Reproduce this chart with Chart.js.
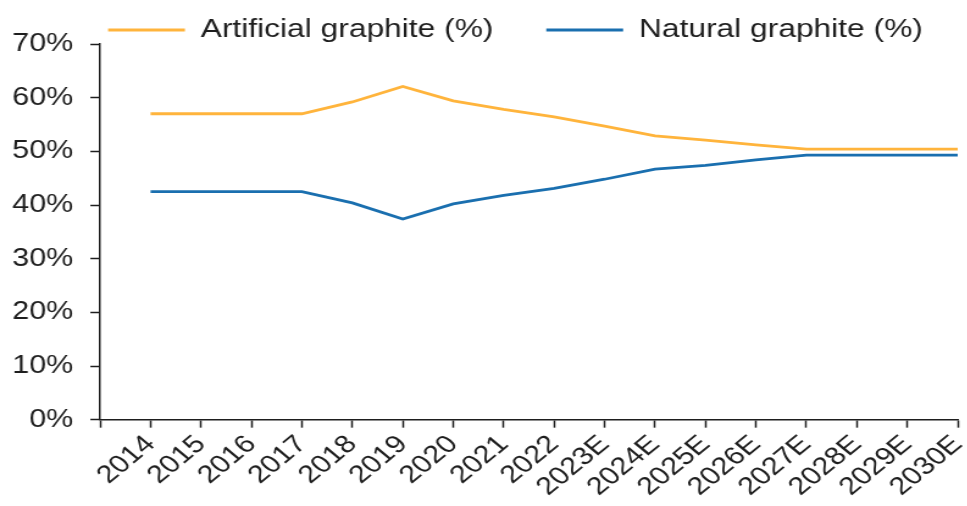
<!DOCTYPE html>
<html>
<head>
<meta charset="utf-8">
<script src="https://cdn.jsdelivr.net/npm/chart.js@4/dist/chart.umd.min.js"></script>
<style>
  html, body { margin: 0; padding: 0; background: #fff; overflow: hidden; }
  /* the source picture is stretched sideways, so draw narrow and scale */
  #wrap { width: 793px; height: 506px; transform: scaleX(1.22); transform-origin: 0 0; }
</style>
</head>
<body>
<div id="wrap"><canvas id="chart"></canvas></div>
<script>
const years = ["2014", "2015", "2016", "2017", "2018", "2019", "2020", "2021", "2022",
  "2023E", "2024E", "2025E", "2026E", "2027E", "2028E", "2029E", "2030E"];
const artificial = [57.0, 57.0, 57.0, 57.0, 59.2, 62.1, 59.4, 57.8, 56.4,
  54.7, 52.9, 52.1, 51.2, 50.4, 50.4, 50.4, 50.4];
const natural = [42.5, 42.5, 42.5, 42.5, 40.4, 37.4, 40.2, 41.8, 43.1,
  44.8, 46.7, 47.4, 48.4, 49.3, 49.3, 49.3, 49.3];
const yTicks = [0, 10, 20, 30, 40, 50, 60, 70];

const ORANGE = "#ffb43c";
const BLUE = "#1a6faf";
const INK = "#1e1e1e";
const FONT = "'Liberation Sans', Arial, sans-serif";

// axis starts one category before 2014, so pad with an empty slot
const labels = [""].concat(years);

// legend sits right of centre and overlaps the top of the plot a bit
const legendShift = {
  id: "legendShift",
  afterLayout(chart) {
    chart.legend.left += 32;
    chart.legend.right += 32;
    chart.legend.top += 9;
    chart.legend.bottom += 9;
  },
};

const ctx = document.getElementById("chart");
new Chart(ctx, {
  type: "line",
  data: {
    labels: labels,
    datasets: [
      {
        label: "Artificial graphite (%)",
        data: [null].concat(artificial),
        borderColor: ORANGE,
        backgroundColor: ORANGE,
        borderWidth: 2.8,
        pointRadius: 0,
        tension: 0,
      },
      {
        label: "Natural graphite (%)",
        data: [null].concat(natural),
        borderColor: BLUE,
        backgroundColor: BLUE,
        borderWidth: 2.8,
        pointRadius: 0,
        tension: 0,
      },
    ],
  },
  options: {
    responsive: true,
    maintainAspectRatio: false,
    animation: false,
    layout: { padding: { left: -4, right: 8, top: 8, bottom: 2 } },
    plugins: {
      legend: {
        position: "top",
        labels: {
          color: INK,
          font: { family: FONT, size: 26 },
          boxWidth: 63,
          boxHeight: 0,
          padding: 0,
          generateLabels(chart) {
            // wider gap after the first entry
            return chart.data.datasets.map((ds, i) => ({
              text: i === 0 ? ds.label + "      " : ds.label,
              fillStyle: ds.borderColor,
              strokeStyle: ds.borderColor,
              lineWidth: 2.8,
              fontColor: INK,
              datasetIndex: i,
            }));
          },
        },
      },
      tooltip: { enabled: false },
    },
    scales: {
      x: {
        type: "category",
        offset: false,
        afterFit(axis) {
          axis.paddingLeft = 0;
          axis.paddingRight = 0;
        },
        grid: {
          display: true,
          drawOnChartArea: false,
          drawTicks: true,
          tickLength: 8,
          tickColor: INK,
          tickWidth: 1.5,
        },
        border: { display: true, color: INK, width: 1.5 },
        ticks: {
          color: INK,
          font: { family: FONT, size: 25 },
          maxRotation: 45,
          minRotation: 45,
          autoSkip: false,
          padding: 2,
        },
      },
      y: {
        min: 0,
        max: 70,
        afterBuildTicks(axis) {
          axis.ticks = yTicks.map((v) => ({ value: v }));
        },
        grid: {
          display: true,
          drawOnChartArea: false,
          drawTicks: true,
          tickLength: 8,
          tickColor: INK,
          tickWidth: 1.5,
        },
        border: { display: true, color: INK, width: 1.5 },
        ticks: {
          color: INK,
          font: { family: FONT, size: 25 },
          padding: 14,
          callback: (v) => v + "%",
        },
      },
    },
  },
  plugins: [legendShift],
});
</script>
</body>
</html>
